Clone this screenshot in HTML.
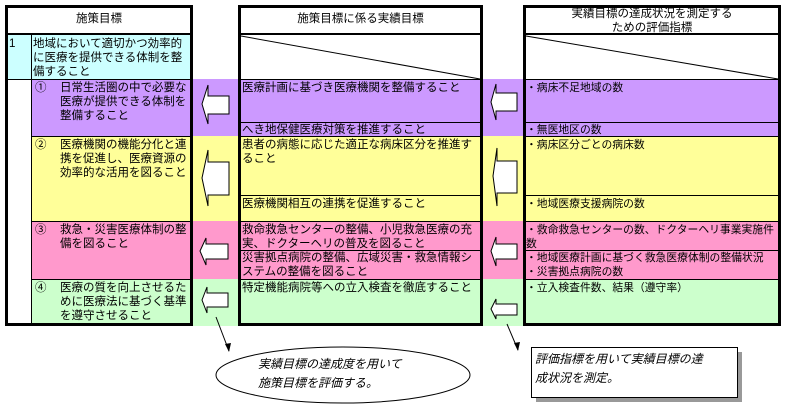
<!DOCTYPE html>
<html><head><meta charset="utf-8"><style>
body{margin:0;width:785px;height:413px;background:#fff;position:relative;overflow:hidden;font-family:"Liberation Sans","Noto Sans CJK JP",sans-serif;font-size:11.5px;line-height:14px;color:#000}
.t{position:absolute;white-space:nowrap}
.r{font-size:10.8px}
</style></head><body>
<svg width="785" height="413" style="position:absolute;left:0;top:0">
<rect x="8" y="35" width="183" height="44" fill="#ccffff"/>
<rect x="31" y="79" width="750" height="57" fill="#cc99ff"/>
<rect x="31" y="136" width="750" height="85" fill="#ffff99"/>
<rect x="31" y="221" width="750" height="58" fill="#ff99cc"/>
<rect x="31" y="279" width="750" height="47" fill="#ccffcc"/>
<rect x="240" y="35" width="242" height="44" fill="#fff"/>
<rect x="525" y="35" width="255" height="44" fill="#fff"/>
<rect x="8" y="79" width="23" height="244" fill="#fff"/>
<g stroke="#000" fill="none">
<rect x="6.5" y="6.5" width="185" height="318" stroke-width="3"/>
<line x1="6" y1="34" x2="192" y2="34" stroke-width="2"/>
<line x1="31.5" y1="35" x2="31.5" y2="324"/>
<line x1="8" y1="79.5" x2="192" y2="79.5"/>
<line x1="31" y1="136.5" x2="192" y2="136.5"/>
<line x1="31" y1="221.5" x2="192" y2="221.5"/>
<line x1="31" y1="279.5" x2="192" y2="279.5"/>
<rect x="239.5" y="6.5" width="242" height="318" stroke-width="3"/>
<line x1="239" y1="34" x2="482" y2="34" stroke-width="2"/>
<line x1="241" y1="36" x2="480" y2="79"/>
<line x1="240" y1="79.5" x2="482" y2="79.5"/>
<line x1="240" y1="122.5" x2="482" y2="122.5"/>
<line x1="240" y1="136.5" x2="482" y2="136.5"/>
<line x1="240" y1="195.5" x2="482" y2="195.5"/>
<line x1="240" y1="221.5" x2="482" y2="221.5"/>
<line x1="240" y1="250.5" x2="482" y2="250.5"/>
<line x1="240" y1="279.5" x2="482" y2="279.5"/>
<rect x="524.5" y="6.5" width="255" height="318" stroke-width="3"/>
<line x1="524" y1="34" x2="780" y2="34" stroke-width="2"/>
<line x1="526" y1="36" x2="778" y2="79"/>
<line x1="525" y1="79.5" x2="780" y2="79.5"/>
<line x1="525" y1="122.5" x2="780" y2="122.5"/>
<line x1="525" y1="136.5" x2="780" y2="136.5"/>
<line x1="525" y1="195.5" x2="780" y2="195.5"/>
<line x1="525" y1="221.5" x2="780" y2="221.5"/>
<line x1="525" y1="250.5" x2="780" y2="250.5"/>
<line x1="525" y1="279.5" x2="780" y2="279.5"/>
</g>
<g fill="#fff" stroke="#000" stroke-width="1">
<polygon points="202,104 208,85 208,96 229,96 229,114 208,114 208,124"/>
<polygon points="202,178 208,150 208,162 229,162 229,195 208,195 208,206"/>
<polygon points="200,251 206,238 206,244 228,244 228,259 206,259 206,265"/>
<polygon points="202,300 207,287 207,293 228,293 228,307 207,307 207,313"/>
<polygon points="491,102 496,84 496,93 517,93 517,111 496,111 496,120"/>
<polygon points="493,176 497,148 497,161 517,161 517,193 497,193 497,206"/>
<polygon points="491,251 496,237 496,244 517,244 517,259 496,259 496,266"/>
<polygon points="491,309 496,299 496,304 517,304 517,315 496,315 496,319"/>
</g>
<line x1="216" y1="317" x2="229" y2="351" stroke="#000"/>
<polygon points="229,352 225,344 231,343" fill="#000"/>
<line x1="507" y1="324" x2="518" y2="350" stroke="#000"/>
<polygon points="518,351 514,343 520,342" fill="#000"/>
<ellipse cx="343" cy="375" rx="127" ry="28" fill="#fff" stroke="#000"/>
<rect x="536" y="352" width="206" height="50" fill="#999"/>
<rect x="531.5" y="347.5" width="206" height="50" fill="#fff" stroke="#000"/>
</svg>
<div class="t" style="left:6px;top:12px;width:186px;text-align:center">施策目標</div>
<div class="t" style="left:239px;top:12px;width:243px;text-align:center">施策目標に係る実績目標</div>
<div class="t" style="left:524px;top:7px;width:256px;text-align:center">実績目標の達成状況を測定する<br>ための評価指標</div>

<div class="t" style="left:9px;top:37px">1</div>
<div class="t" style="left:33px;top:37px">地域において適切かつ効率的<br>に医療を提供できる体制を整<br>備すること</div>
<div class="t" style="left:35px;top:81px">①</div>
<div class="t" style="left:60px;top:81px">日常生活圏の中で必要な<br>医療が提供できる体制を<br>整備すること</div>
<div class="t" style="left:35px;top:138px">②</div>
<div class="t" style="left:60px;top:138px">医療機関の機能分化と連<br>携を促進し、医療資源の<br>効率的な活用を図ること</div>
<div class="t" style="left:35px;top:223px">③</div>
<div class="t" style="left:60px;top:223px">救急・災害医療体制の整<br>備を図ること</div>
<div class="t" style="left:35px;top:281px">④</div>
<div class="t" style="left:60px;top:281px">医療の質を向上させるた<br>めに医療法に基づく基準<br>を遵守させること</div>

<div class="t" style="left:242px;top:81px">医療計画に基づき医療機関を整備すること</div>
<div class="t" style="left:242px;top:123px">へき地保健医療対策を推進すること</div>
<div class="t" style="left:242px;top:138px">患者の病態に応じた適正な病床区分を推進す<br>ること</div>
<div class="t" style="left:242px;top:197px">医療機関相互の連携を促進すること</div>
<div class="t" style="left:242px;top:223px">救命救急センターの整備、小児救急医療の充<br>実、ドクターヘリの普及を図ること</div>
<div class="t" style="left:242px;top:251px">災害拠点病院の整備、広域災害・救急情報シ<br>ステムの整備を図ること</div>
<div class="t" style="left:242px;top:281px">特定機能病院等への立入検査を徹底すること</div>

<div class="t r" style="left:526px;top:81px">・病床不足地域の数</div>
<div class="t r" style="left:526px;top:123px">・無医地区の数</div>
<div class="t r" style="left:526px;top:138px">・病床区分ごとの病床数</div>
<div class="t r" style="left:526px;top:197px">・地域医療支援病院の数</div>
<div class="t r" style="left:526px;top:223px">・救命救急センターの数、ドクターヘリ事業実施件<br>数</div>
<div class="t r" style="left:526px;top:251px">・地域医療計画に基づく救急医療体制の整備状況<br>・災害拠点病院の数</div>
<div class="t r" style="left:526px;top:281px">・立入検査件数、結果（遵守率）</div>

<div class="t" style="left:258px;top:355px;font-style:italic;line-height:19px;font-size:12px">実績目標の達成度を用いて<br>施策目標を評価する。</div>
<div class="t" style="left:535px;top:350px;font-style:italic;line-height:19px;font-size:12px">評価指標を用いて実績目標の達<br>成状況を測定。</div>
</body></html>
